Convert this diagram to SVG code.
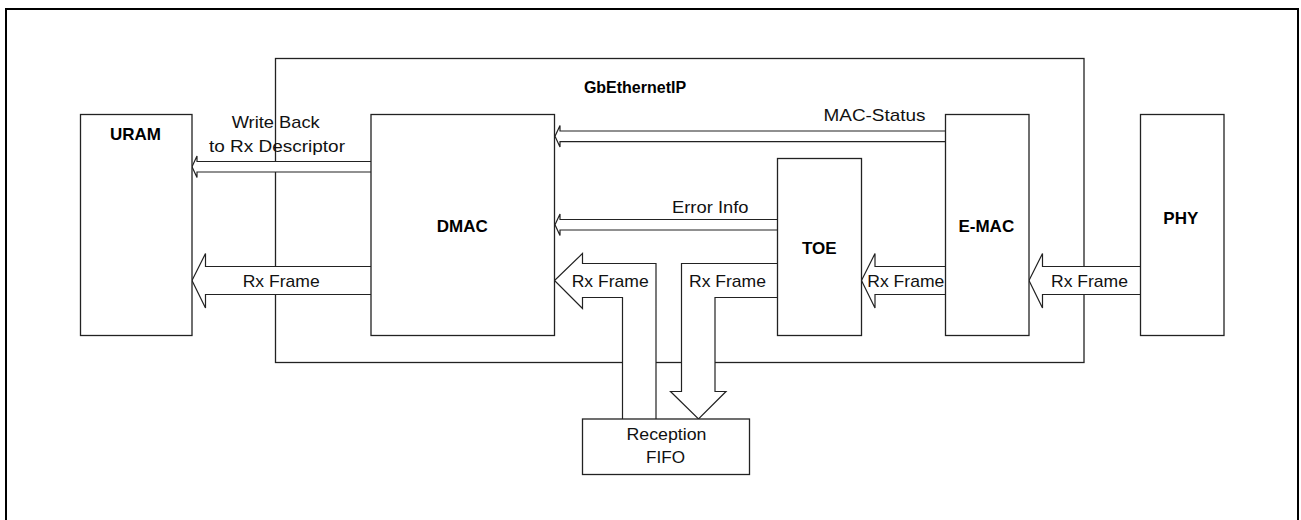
<svg xmlns="http://www.w3.org/2000/svg" width="1301" height="520" viewBox="0 0 1301 520">
<style>
.box{fill:#fff;stroke:#222;stroke-width:1.3}
.conn path{fill:#fff;stroke:#222;stroke-width:1.2;stroke-linejoin:miter}
.lbl{font-family:"Liberation Sans",Arial,sans-serif;font-size:17px;fill:#111}
.bold{font-family:"Liberation Sans",Arial,sans-serif;font-size:17px;font-weight:bold;fill:#000;text-anchor:middle}
</style>
<rect x="0" y="0" width="1301" height="520" fill="#fff"/>
<rect x="6" y="9" width="1292" height="530" fill="none" stroke="#000" stroke-width="2"/>
<g id="gbethernetip">
<rect class="box" x="275.5" y="58.5" width="808.5" height="304"/>
<text class="bold" x="635" y="93" style="font-size:16px">GbEthernetIP</text>
</g>
<g id="connectors" class="conn">
<path d="M371,161.5 H197 V156 L192,166.8 L197,177.5 V172 H371"/>
<path d="M945,131 H560 V125.5 L555,136.3 L560,147 V141.7 H945"/>
<path d="M777,219.5 H560 V214 L555,224.7 L560,235.5 V230 H777"/>
<path d="M371,266.5 H205.5 V253.5 L192,280.5 L205.5,308 V294.5 H371"/>
<path d="M622.5,419 V297.5 H582.5 V308.5 L554.5,280.5 L582.5,253.5 V263.5 H656 V419"/>
<path d="M777,263.5 H681.5 V391.5 H670.5 L698.5,419 L726,391.5 H715 V297.5 H777"/>
<path d="M945,266.5 H875 V253.5 L861.5,280.5 L875,308 V294.5 H945"/>
<path d="M1140,266.5 H1042.5 V253.5 L1029,280.5 L1042.5,308 V294.5 H1140"/>
</g>
<g id="conn-labels">
<text class="lbl" x="231.7" y="128" textLength="88" lengthAdjust="spacingAndGlyphs">Write Back</text>
<text class="lbl" x="209" y="151.5" textLength="136" lengthAdjust="spacingAndGlyphs">to Rx Descriptor</text>
<text class="lbl" x="823.5" y="120.5" textLength="102" lengthAdjust="spacingAndGlyphs">MAC-Status</text>
<text class="lbl" x="672" y="212.5" textLength="76.5" lengthAdjust="spacingAndGlyphs">Error Info</text>
<text class="lbl" x="242.7" y="287" textLength="77" lengthAdjust="spacingAndGlyphs">Rx Frame</text>
<text class="lbl" x="571.7" y="287" textLength="77" lengthAdjust="spacingAndGlyphs">Rx Frame</text>
<text class="lbl" x="689" y="287" textLength="77" lengthAdjust="spacingAndGlyphs">Rx Frame</text>
<text class="lbl" x="867.3" y="287" textLength="77" lengthAdjust="spacingAndGlyphs">Rx Frame</text>
<text class="lbl" x="1051" y="287" textLength="77" lengthAdjust="spacingAndGlyphs">Rx Frame</text>
</g>
<g id="uram">
<rect class="box" x="80.5" y="114.5" width="111.5" height="221"/>
<text class="bold" x="135.5" y="140">URAM</text>
</g>
<g id="dmac">
<rect class="box" x="371" y="114.5" width="183.5" height="221"/>
<text class="bold" x="462.3" y="231.7">DMAC</text>
</g>
<g id="toe">
<rect class="box" x="777.5" y="158.5" width="84" height="177"/>
<text class="bold" x="819.2" y="254">TOE</text>
</g>
<g id="emac">
<rect class="box" x="945.5" y="114.5" width="83.5" height="221"/>
<text class="bold" x="986.3" y="231.7">E-MAC</text>
</g>
<g id="phy">
<rect class="box" x="1140.5" y="114.5" width="83.5" height="221"/>
<text class="bold" x="1180.8" y="224">PHY</text>
</g>
<g id="fifo">
<rect class="box" x="582.5" y="419" width="167" height="55.5"/>
<text class="lbl" x="666.5" y="440" text-anchor="middle" textLength="80" lengthAdjust="spacingAndGlyphs">Reception</text>
<text class="lbl" x="665.5" y="463.3" text-anchor="middle" textLength="39" lengthAdjust="spacingAndGlyphs">FIFO</text>
</g>
</svg>
